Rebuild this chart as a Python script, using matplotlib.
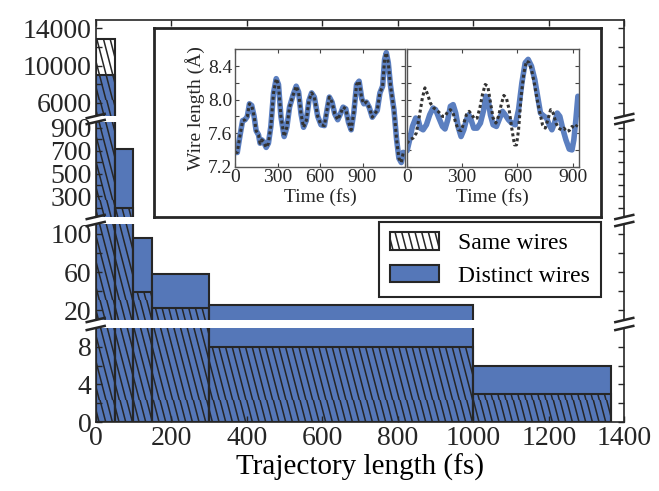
#!/usr/bin/env python3
"""Broken-axis histogram of trajectory lengths with a wire-length inset."""

import numpy as np
import matplotlib

matplotlib.use("Agg")

import matplotlib.pyplot as plt
from matplotlib import hatch as mhatch
from matplotlib.path import Path


# histogram: bin edges in fs, counts per bin
bin_edges = [0, 50, 100, 150, 300, 1000, 1365]
distinct_counts = [9000, 714, 95, 58, 25.5, 6]
same_counts = [12900, 200, 39, 22.5, 8, 3]

# inset, left panel (both curves overlap)
left_time = [0, 16, 35, 54, 71, 87, 102, 118, 135, 149, 166, 177, 189, 201, 220, 236,
             253, 272, 291, 307, 324, 347, 366, 385, 409, 432, 449, 466, 484, 503, 522,
             541, 560, 584, 607, 631, 650, 666, 685, 704, 725, 744, 763, 782, 801, 820,
             839, 858, 876, 895, 910, 928, 947, 969, 985, 1004, 1023, 1042, 1056, 1068,
             1082, 1098, 1122, 1141, 1157, 1174, 1188]
left_length = [7.37, 7.37, 7.57, 7.75, 7.76, 7.80, 7.95, 7.93, 7.80, 7.63, 7.58, 7.48,
               7.52, 7.50, 7.43, 7.48, 7.68, 8.08, 8.25, 8.18, 7.80, 7.56, 7.67, 7.91,
               8.05, 8.16, 8.09, 7.83, 7.67, 7.75, 7.99, 8.08, 8.03, 7.80, 7.70, 7.69,
               7.88, 8.03, 7.97, 7.83, 7.76, 7.83, 7.91, 7.89, 7.73, 7.64, 7.85, 8.18,
               8.22, 8.01, 7.95, 7.97, 7.91, 7.79, 7.83, 7.87, 8.08, 8.16, 8.48, 8.56,
               8.44, 8.16, 7.88, 7.52, 7.30, 7.25, 7.37]

# inset, right panel: thick blue curve
right_time_blue = [2, 16, 31, 49, 62, 74, 89, 107, 125, 143, 157, 175, 194, 208, 223, 237,
                   252, 266, 281, 295, 310, 324, 337, 349, 364, 382, 400, 418, 429, 442,
                   454, 469, 487, 505, 520, 534, 552, 570, 589, 607, 625, 643, 659, 677,
                   695, 712, 726, 741, 759, 773, 788, 802, 817, 831, 846, 864, 882, 897,
                   907, 918, 929]
right_length_blue = [7.39, 7.52, 7.68, 7.78, 7.76, 7.66, 7.64, 7.70, 7.82, 7.90, 7.88, 7.78,
                     7.68, 7.65, 7.76, 7.92, 7.94, 7.84, 7.66, 7.56, 7.64, 7.76, 7.82, 7.76,
                     7.66, 7.66, 7.72, 7.88, 8.04, 8.00, 7.82, 7.70, 7.68, 7.78, 7.86, 7.82,
                     7.76, 7.72, 7.70, 7.88, 8.20, 8.44, 8.48, 8.40, 8.24, 8.02, 7.84, 7.81,
                     7.78, 7.70, 7.64, 7.72, 7.84, 7.80, 7.66, 7.52, 7.41, 7.40, 7.52, 7.76,
                     8.04]

# inset, right panel: dotted curve
right_time_dots = [2, 16, 34, 52, 70, 85, 99, 114, 128, 147, 161, 179, 194, 208, 223, 237,
                   252, 266, 281, 295, 310, 324, 339, 353, 368, 382, 397, 411, 426, 440,
                   455, 469, 484, 498, 513, 527, 541, 556, 570, 585, 596, 607, 621, 636,
                   650, 665, 679, 694, 708, 723, 737, 752, 766, 781, 795, 810, 824, 839,
                   853, 868, 882, 897, 911, 926]
right_length_dots = [7.48, 7.52, 7.54, 7.60, 7.82, 8.02, 8.14, 8.06, 7.96, 7.90, 7.88, 7.84,
                     7.80, 7.80, 7.86, 7.88, 7.84, 7.72, 7.64, 7.63, 7.72, 7.82, 7.86, 7.82,
                     7.77, 7.78, 7.90, 8.06, 8.18, 8.16, 7.96, 7.78, 7.72, 7.80, 7.94, 8.05,
                     8.02, 7.88, 7.66, 7.46, 7.46, 7.64, 8.04, 8.32, 8.46, 8.44, 8.34, 8.18,
                     8.00, 7.84, 7.70, 7.66, 7.76, 7.88, 7.84, 7.72, 7.66, 7.64, 7.66, 7.62,
                     7.63, 7.68, 7.66, 7.70]

# broken y axis: one entry per panel, top to bottom
panel_ylims = [(4600, 14900), (120, 950), (10, 110), (0, 10)]
panel_ticks = [[6000, 8000, 10000, 12000, 14000],
               list(range(200, 1000, 100)),
               [20, 40, 60, 80, 100],
               [0, 2, 4, 6, 8]]
panel_labels = [["6000", "", "10000", "", "14000"],
                ["", "300", "", "500", "", "700", "", "900"],
                ["20", "", "60", "", "100"],
                ["0", "", "4", "", "8"]]
x_ticks = [0, 200, 400, 600, 800, 1000, 1200, 1400]
inset_yticks = [7.2, 7.4, 7.6, 7.8, 8.0, 8.2, 8.4]
inset_ylabels = ["7.2", "", "7.6", "", "8.0", "", "8.4"]

BLUE = "#5577b8"
LINE_BLUE = "#5b7fc0"
EDGE = "#262626"
W, H = 659, 491


class SteepBackslash(mhatch.HatchPatternBase):
    """Same as the '\\' hatch, but steeper and denser."""

    def __init__(self, hatch, density):
        self.num_lines = int(hatch.count("\\") * density * 2.5)
        self.shift = 0.26
        self.extra = int(np.ceil(self.shift * self.num_lines))
        self.num_vertices = (self.num_lines + self.extra + 1) * 2 if self.num_lines else 0

    def set_vertices_and_codes(self, vertices, codes):
        starts = np.arange(-self.extra, self.num_lines + 1) / self.num_lines
        vertices[0::2, 0] = starts
        vertices[0::2, 1] = 1.0
        vertices[1::2, 0] = starts + self.shift
        vertices[1::2, 1] = 0.0
        codes[0::2] = Path.MOVETO
        codes[1::2] = Path.LINETO


mhatch._hatch_types = [SteepBackslash if t is mhatch.SouthEastHatch else t
                       for t in mhatch._hatch_types]

plt.rcParams["font.family"] = ["Liberation Serif", "DejaVu Serif"]
plt.rcParams["hatch.linewidth"] = 1.1


def px_rect(x0, y0, x1, y1):
    return [x0 / W, 1 - y1 / H, (x1 - x0) / W, (y1 - y0) / H]


fig = plt.figure(figsize=(W / 100, H / 100), dpi=100)

panel_px = [(20, 116), (122, 217), (224, 320), (328, 422)]
left_edges = np.array(bin_edges[:-1])
widths = np.diff(bin_edges)
axes = []
for i, (top, bottom) in enumerate(panel_px):
    ax = fig.add_axes(px_rect(95.7, top, 624.3, bottom))
    bars_distinct = ax.bar(left_edges, distinct_counts, widths, align="edge", color=BLUE,
                           edgecolor=EDGE, linewidth=1.5, label="Distinct wires")
    bars_same = ax.bar(left_edges, same_counts, widths, align="edge", facecolor="none",
                       edgecolor=EDGE, linewidth=1.5, hatch="\\", label="Same wires")
    ax.set_xlim(0, 1400)
    ax.set_ylim(*panel_ylims[i])
    ax.set_yticks(panel_ticks[i])
    ax.set_yticklabels(panel_labels[i])
    ax.set_xticks(x_ticks)
    ax.tick_params(direction="in", length=4, width=1, colors=EDGE, labelsize=20,
                   right=True, top=(i == 0), bottom=(i == 3), labelbottom=(i == 3), pad=3)
    for side in ("left", "right", "top", "bottom"):
        ax.spines[side].set_color(EDGE)
        ax.spines[side].set_linewidth(1.2)
    if i > 0:
        ax.spines["top"].set_visible(False)
    if i < 3:
        ax.spines["bottom"].set_visible(False)

    # break marks
    dx, dy = 0.017, 0.022
    kw = dict(transform=ax.transAxes, color=EDGE, lw=1.8, clip_on=False)
    for x in (0, 1):
        if i < 3:
            ax.plot([x - dx, x + dx], [-dy, dy], **kw)
        if i > 0:
            ax.plot([x - dx, x + dx], [1 - dy, 1 + dy], **kw)
    axes.append(ax)

axes[-1].set_xlabel("Trajectory length (fs)", fontsize=21, labelpad=2)

fig.legend([bars_same, bars_distinct], ["Same wires", "Distinct wires"],
           loc="upper right", bbox_to_anchor=(600.7 / W, 1 - 221.7 / H), borderaxespad=0,
           fontsize=17, handlelength=2.1, handleheight=0.75, fancybox=False,
           edgecolor=EDGE, framealpha=1, borderpad=0.45, labelspacing=0.45,
           handletextpad=0.8)
fig.legends[0].get_frame().set_linewidth(1.5)

# inset frame
frame = fig.add_axes(px_rect(154, 28.3, 601, 216.7))
frame.set_xticks([])
frame.set_yticks([])
for spine in frame.spines.values():
    spine.set_linewidth(2)
    spine.set_color(EDGE)

ins_left = fig.add_axes(px_rect(235, 49.3, 405, 166.7))
ins_right = fig.add_axes(px_rect(406.7, 49.3, 579, 166.7))

ins_left.plot(left_time, left_length, color=LINE_BLUE, lw=4, solid_capstyle="round")
ins_left.plot(left_time, left_length, color="#333333", lw=2.2, ls=(0, (1, 0.9)))
ins_right.plot(right_time_blue, right_length_blue, color=LINE_BLUE, lw=4,
               solid_capstyle="round")
ins_right.plot(right_time_dots, right_length_dots, color="#333333", lw=2.2, ls=(0, (1, 0.9)))

ins_left.set_xlim(0, 1200)
ins_right.set_xlim(0, 935)
for ax in (ins_left, ins_right):
    ax.set_ylim(7.2, 8.6)
    ax.set_yticks(inset_yticks)
    ax.set_xticks([0, 300, 600, 900])
    ax.tick_params(direction="in", length=3, width=0.8, colors="#444444", labelsize=14,
                   labelcolor=EDGE, top=True, right=True, pad=2)
    ax.set_xlabel("Time (fs)", fontsize=14, labelpad=1, color=EDGE)
    for spine in ax.spines.values():
        spine.set_color("#555555")
        spine.set_linewidth(1)
ins_left.set_yticklabels(inset_ylabels)
ins_right.set_yticklabels([])
ins_left.set_ylabel("Wire length (Å)", fontsize=14, labelpad=2, color=EDGE)

fig.savefig("out.png", dpi=100)
